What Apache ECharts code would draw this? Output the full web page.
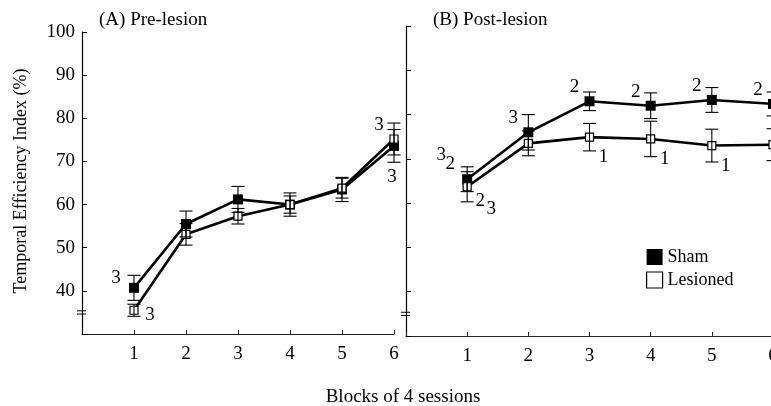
<!DOCTYPE html>
<html><head><meta charset="utf-8">
<script src="https://cdn.jsdelivr.net/npm/echarts@6/dist/echarts.min.js"></script>
<style>html,body{margin:0;padding:0;background:#fff}#c{width:771px;height:406px}</style>
</head><body><div id="c"></div>
<script>
// ---------- data ----------
const blocks = [1, 2, 3, 4, 5, 6];
const xTickLabels = ['1', '2', '3', '4', '5', '6'];
const yTickLabels = ['40', '50', '60', '70', '80', '90', '100'];
const seriesNames = ['Sham', 'Lesioned'];
const panelTitles = ['(A) Pre-lesion', '(B) Post-lesion'];
const yAxisTitle = 'Temporal Efficiency Index (%)';
const xAxisTitle = 'Blocks of 4 sessions';

const preSham = [40.7, 55.5, 61.2, 60.0, 63.5, 73.6];
const preShamErr = [2.9, 3.0, 3.0, 2.7, 2.8, 3.8];
const preLes = [35.5, 53.1, 57.3, 60.0, 63.8, 75.2];
const preLesErr = [1.4, 2.5, 1.8, 2.0, 2.3, 3.7];

const postSham = [65.4, 76.0, 83.0, 82.0, 83.3, 82.4];
const postShamErr = [2.8, 4.0, 2.1, 2.9, 2.8, 2.7];
const postLes = [63.7, 73.5, 74.9, 74.5, 73.0, 73.2];
const postLesErr = [3.4, 2.8, 3.1, 4.0, 3.7, 3.6];

// annotations: [group, block, text, placement]
const preNotes = [['sham', 1, '3', 'w'], ['les', 1, '3', 'e'], ['les', 6, '3', 'nw'], ['sham', 6, '3', 's']];
const postNotes = [
  ['sham', 1, '3', 'nwFar'], ['sham', 1, '2', 'nwNear'], ['les', 1, '2', 'seNear'], ['les', 1, '3', 'seFar'],
  ['sham', 2, '3', 'nw'], ['sham', 3, '2', 'nw'], ['sham', 4, '2', 'nw'], ['sham', 5, '2', 'nw'], ['sham', 6, '2', 'nw'],
  ['les', 3, '1', 'se'], ['les', 4, '1', 'se'], ['les', 5, '1', 'se'], ['les', 6, '1', 'se']
];

// ---------- styling / layout ----------
const FONT = '"Liberation Serif", "Times New Roman", serif';
const OFFSETS = {
  w: [-18, -10], e: [16, 5], nw: [-15, -14], s: [-2, 31], se: [14, 20],
  nwFar: [-26, -24], nwNear: [-17, -15], seNear: [13, 14], seFar: [24, 22]
};
const grids = [
  { left: 82, top: 32, width: 312, height: 302, containLabel: false, outerBoundsMode: 'none' },
  { left: 406, top: 26, width: 367, height: 310, containLabel: false, outerBoundsMode: 'none' }
];

const chart = echarts.init(document.getElementById('c'), null, { renderer: 'canvas' });

function xAxisCfg(gi) {
  return {
    type: 'value', gridIndex: gi, min: 0, max: 6, interval: 1,
    axisLine: { show: true, lineStyle: { color: '#222', width: 1.2 } },
    axisTick: { show: true, inside: true, length: 4, lineStyle: { color: '#222' } },
    splitLine: { show: false },
    axisLabel: {
      color: '#000', fontFamily: FONT, fontSize: 19, margin: 11, hideOverlap: false,
      formatter: v => (v >= 1 && v <= 6) ? xTickLabels[v - 1] : ''
    }
  };
}
function yAxisCfg(gi, showLabels) {
  return {
    type: 'value', gridIndex: gi, min: 30, max: 100, interval: 10,
    axisLine: { show: true, lineStyle: { color: '#000', width: 1.2 } },
    axisTick: { show: true, inside: true, length: 5, lineStyle: { color: '#000' } },
    splitLine: { show: false },
    axisLabel: {
      show: showLabels, color: '#000', fontFamily: FONT, fontSize: 19, margin: 7,
      formatter: v => yTickLabels.includes(String(v)) ? String(v) : ''
    }
  };
}

function lineSeries(gi, name, vals, filled) {
  return {
    type: 'line', name: name, xAxisIndex: gi, yAxisIndex: gi,
    data: blocks.map((b, i) => [b, vals[i]]),
    symbol: 'rect', symbolSize: filled ? 10 : 8, showSymbol: true, showAllSymbol: true,
    lineStyle: { color: '#000', width: 2.6 },
    itemStyle: filled ? { color: '#000' } : { color: '#fff', borderColor: '#000', borderWidth: 1.2 },
    z: filled ? 3 : 4, clip: false, silent: true
  };
}
function errSeries(gi, vals, errs) {
  return {
    type: 'custom', xAxisIndex: gi, yAxisIndex: gi, z: 5, silent: true,
    data: blocks.map((b, i) => [b, vals[i] - errs[i], vals[i] + errs[i]]),
    encode: { x: 0, y: [1, 2] },
    renderItem: (params, api) => {
      const x = api.value(0);
      const top = api.coord([x, api.value(2)]);
      const bot = api.coord([x, api.value(1)]);
      const w = 6.5, st = { stroke: '#000', lineWidth: 1.1 };
      return {
        type: 'group', children: [
          { type: 'line', shape: { x1: top[0], y1: top[1], x2: bot[0], y2: bot[1] }, style: st },
          { type: 'line', shape: { x1: top[0] - w, y1: top[1], x2: top[0] + w, y2: top[1] }, style: st },
          { type: 'line', shape: { x1: bot[0] - w, y1: bot[1], x2: bot[0] + w, y2: bot[1] }, style: st }
        ]
      };
    }
  };
}
function noteSeries(gi, notes, shamVals, lesVals) {
  const pts = notes.map(n => [n[1], (n[0] === 'sham' ? shamVals : lesVals)[n[1] - 1]]);
  return {
    type: 'custom', xAxisIndex: gi, yAxisIndex: gi, z: 6, silent: true,
    data: pts, encode: { x: 0, y: 1 },
    renderItem: (params, api) => {
      const n = notes[params.dataIndex];
      const p = api.coord([api.value(0), api.value(1)]);
      const o = OFFSETS[n[3]];
      return {
        type: 'text', x: p[0] + o[0], y: p[1] + o[1],
        style: { text: n[2], font: '19px ' + FONT, fill: '#000', align: 'center', verticalAlign: 'middle' }
      };
    }
  };
}

const baseGraphic = [
  { type: 'text', x: 21, y: 181, rotation: Math.PI / 2,
    style: { text: yAxisTitle, font: '18px ' + FONT, fill: '#000', align: 'center', verticalAlign: 'middle' } },
  { type: 'text', x: 403, y: 397,
    style: { text: xAxisTitle, font: '19px ' + FONT, fill: '#000', align: 'center', verticalAlign: 'middle' } }
];

chart.setOption({
  animation: false,
  backgroundColor: '#fff',
  grid: grids,
  title: [
    { text: panelTitles[0], left: 99, top: 11, padding: 0, textStyle: { fontFamily: FONT, fontSize: 19, fontWeight: 'normal', color: '#000' } },
    { text: panelTitles[1], left: 433, top: 11, padding: 0, textStyle: { fontFamily: FONT, fontSize: 19, fontWeight: 'normal', color: '#000' } }
  ],
  legend: {
    orient: 'vertical', left: 646, top: 248, padding: 0, itemWidth: 16, itemHeight: 16, itemGap: 5,
    selectedMode: false,
    textStyle: { fontFamily: FONT, fontSize: 18, color: '#000' },
    data: [
      { name: seriesNames[0], icon: 'rect', itemStyle: { color: '#000' } },
      { name: seriesNames[1], icon: 'rect', itemStyle: { color: '#fff', borderColor: '#000', borderWidth: 1.2 } }
    ]
  },
  xAxis: [xAxisCfg(0), xAxisCfg(1)],
  yAxis: [yAxisCfg(0, true), yAxisCfg(1, false)],
  series: [
    lineSeries(0, seriesNames[0], preSham, true),
    lineSeries(0, seriesNames[1], preLes, false),
    errSeries(0, preSham, preShamErr),
    errSeries(0, preLes, preLesErr),
    noteSeries(0, preNotes, preSham, preLes),
    lineSeries(1, seriesNames[0], postSham, true),
    lineSeries(1, seriesNames[1], postLes, false),
    errSeries(1, postSham, postShamErr),
    errSeries(1, postLes, postLesErr),
    noteSeries(1, postNotes, postSham, postLes)
  ],
  graphic: baseGraphic
});

// axis break marks at value 35 on each y axis
const breakValue = 35;
const breaks = [];
[0, 1].forEach(gi => {
  const yPix = chart.convertToPixel({ yAxisIndex: gi }, breakValue);
  const xPix = chart.convertToPixel({ xAxisIndex: gi }, 0);
  [-1.6, 1.6].forEach(d => {
    breaks.push({ type: 'line', shape: { x1: xPix - 5, y1: yPix + d, x2: xPix + 4, y2: yPix + d },
      style: { stroke: '#000', lineWidth: 1 } });
  });
});
chart.setOption({ graphic: baseGraphic.concat(breaks) });
</script>
</body></html>
